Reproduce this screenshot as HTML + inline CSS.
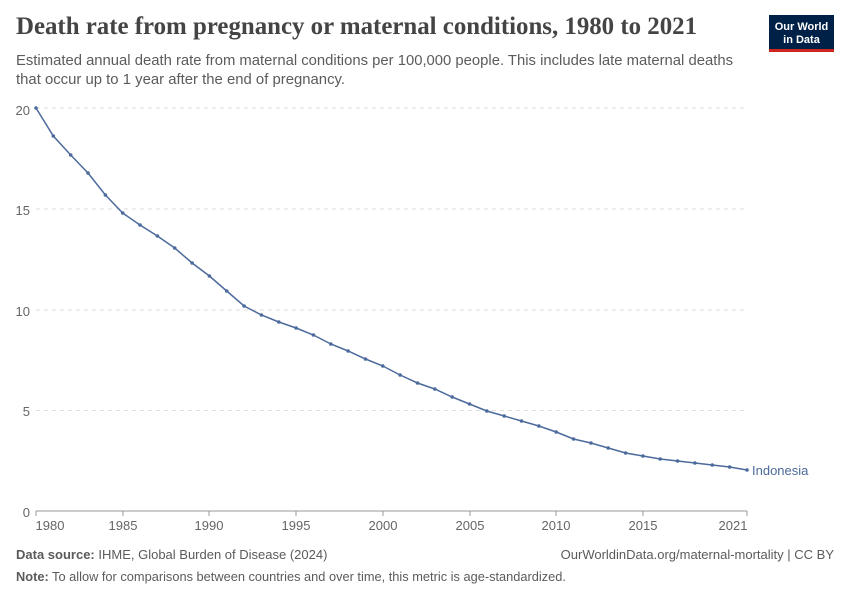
<!DOCTYPE html>
<html><head><meta charset="utf-8"><style>
body{margin:0;background:#fff;width:850px;height:600px;overflow:hidden;font-family:"Liberation Sans",sans-serif}
</style></head><body>
<svg width="850" height="600" xmlns="http://www.w3.org/2000/svg" font-family="Liberation Sans, sans-serif">
<text x="16" y="34" font-family="Liberation Serif, serif" font-size="25" font-weight="bold" fill="#444" textLength="681" lengthAdjust="spacingAndGlyphs">Death rate from pregnancy or maternal conditions, 1980 to 2021</text>
<text x="16" y="65" font-size="14.5" fill="#5b5b5b" textLength="717" lengthAdjust="spacingAndGlyphs">Estimated annual death rate from maternal conditions per 100,000 people. This includes late maternal deaths</text>
<text x="16" y="84" font-size="14.5" fill="#5b5b5b" textLength="329" lengthAdjust="spacingAndGlyphs">that occur up to 1 year after the end of pregnancy.</text>
<rect x="769" y="15" width="65" height="36" fill="#002147"/>
<rect x="769" y="49" width="65" height="3" fill="#ce261e"/>
<text x="801.5" y="30" font-size="11" font-weight="bold" fill="#fff" text-anchor="middle">Our World</text>
<text x="801.5" y="43" font-size="11" font-weight="bold" fill="#fff" text-anchor="middle">in Data</text>
<g stroke="#ddd" stroke-dasharray="4,4" stroke-width="1">
<line x1="36" x2="747" y1="108" y2="108"/><line x1="36" x2="747" y1="209" y2="209"/>
<line x1="36" x2="747" y1="310" y2="310"/><line x1="36" x2="747" y1="410.5" y2="410.5"/>
</g>
<line x1="36" x2="747" y1="511" y2="511" stroke="#999"/>
<g font-size="13" fill="#666" text-anchor="end">
<text x="30" y="115">20</text><text x="30" y="215">15</text><text x="30" y="316">10</text><text x="30" y="416">5</text><text x="30" y="517">0</text>
</g>
<g font-size="13" fill="#666" text-anchor="middle">
<text x="50" y="530">1980</text><text x="123" y="530">1985</text><text x="209" y="530">1990</text><text x="296" y="530">1995</text><text x="383" y="530">2000</text><text x="470" y="530">2005</text><text x="556" y="530">2010</text><text x="643" y="530">2015</text><text x="733" y="530">2021</text>
</g>
<g stroke="#999"><line x1="36" x2="36" y1="511" y2="516"/><line x1="123" x2="123" y1="511" y2="516"/><line x1="209" x2="209" y1="511" y2="516"/><line x1="296" x2="296" y1="511" y2="516"/><line x1="383" x2="383" y1="511" y2="516"/><line x1="470" x2="470" y1="511" y2="516"/><line x1="556" x2="556" y1="511" y2="516"/><line x1="643" x2="643" y1="511" y2="516"/><line x1="747" x2="747" y1="511" y2="516"/></g>
<polyline fill="none" stroke="#4c6a9c" stroke-width="1.5" points="36,108 53.3,136 70.7,155 88,173 105.4,195 122.7,213 140,225 157.4,236 174.7,248 192.1,263 209.4,276 226.7,291 244.1,306 261.4,315 278.8,322 296.1,328 313.4,335 330.8,344 348.1,351 365.5,359 382.8,366 400.1,375 417.5,383 434.8,389 452.2,397 469.5,404 486.8,411 504.2,416 521.5,421 538.9,426 556.2,432 573.5,439 590.9,443 608.2,448 625.6,453 642.9,456 660.2,459 677.6,461 694.9,463 712.3,465 729.6,467 747,470"/>
<g fill="#4c6a9c">
<circle cx="36" cy="108" r="1.8"/><circle cx="53.3" cy="136" r="1.8"/><circle cx="70.7" cy="155" r="1.8"/><circle cx="88" cy="173" r="1.8"/><circle cx="105.4" cy="195" r="1.8"/><circle cx="122.7" cy="213" r="1.8"/><circle cx="140" cy="225" r="1.8"/><circle cx="157.4" cy="236" r="1.8"/><circle cx="174.7" cy="248" r="1.8"/><circle cx="192.1" cy="263" r="1.8"/><circle cx="209.4" cy="276" r="1.8"/><circle cx="226.7" cy="291" r="1.8"/><circle cx="244.1" cy="306" r="1.8"/><circle cx="261.4" cy="315" r="1.8"/><circle cx="278.8" cy="322" r="1.8"/><circle cx="296.1" cy="328" r="1.8"/><circle cx="313.4" cy="335" r="1.8"/><circle cx="330.8" cy="344" r="1.8"/><circle cx="348.1" cy="351" r="1.8"/><circle cx="365.5" cy="359" r="1.8"/><circle cx="382.8" cy="366" r="1.8"/><circle cx="400.1" cy="375" r="1.8"/><circle cx="417.5" cy="383" r="1.8"/><circle cx="434.8" cy="389" r="1.8"/><circle cx="452.2" cy="397" r="1.8"/><circle cx="469.5" cy="404" r="1.8"/><circle cx="486.8" cy="411" r="1.8"/><circle cx="504.2" cy="416" r="1.8"/><circle cx="521.5" cy="421" r="1.8"/><circle cx="538.9" cy="426" r="1.8"/><circle cx="556.2" cy="432" r="1.8"/><circle cx="573.5" cy="439" r="1.8"/><circle cx="590.9" cy="443" r="1.8"/><circle cx="608.2" cy="448" r="1.8"/><circle cx="625.6" cy="453" r="1.8"/><circle cx="642.9" cy="456" r="1.8"/><circle cx="660.2" cy="459" r="1.8"/><circle cx="677.6" cy="461" r="1.8"/><circle cx="694.9" cy="463" r="1.8"/><circle cx="712.3" cy="465" r="1.8"/><circle cx="729.6" cy="467" r="1.8"/><circle cx="747" cy="470" r="1.8"/>
</g>
<text x="752" y="475" font-size="13" fill="#4c6a9c">Indonesia</text>
<text x="16" y="559" font-size="13" fill="#5b5b5b"><tspan font-weight="bold">Data source:</tspan> IHME, Global Burden of Disease (2024)</text>
<text x="834" y="559" font-size="13" fill="#5b5b5b" text-anchor="end">OurWorldinData.org/maternal-mortality | CC BY</text>
<text x="16" y="581" font-size="13" fill="#5b5b5b" textLength="550" lengthAdjust="spacingAndGlyphs"><tspan font-weight="bold">Note:</tspan> To allow for comparisons between countries and over time, this metric is age-standardized.</text>
</svg>
</body></html>
